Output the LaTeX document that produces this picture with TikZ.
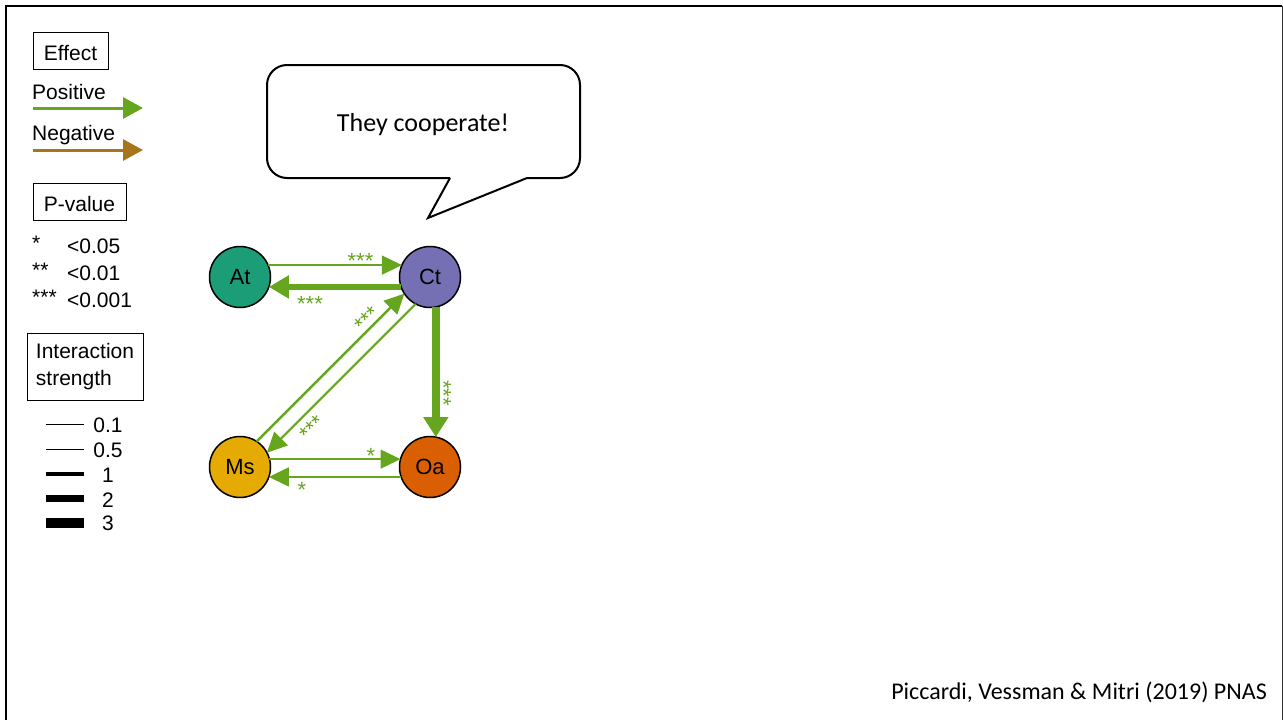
\documentclass[tikz,border=0pt]{standalone}
\usepackage{fontspec}
\setmainfont{Liberation Sans}
\newfontfamily\carl{Carlito}
\usetikzlibrary{arrows.meta}
\definecolor{posg}{HTML}{66A61E}
\definecolor{negb}{HTML}{A6761D}
\definecolor{cAt}{HTML}{1B9E77}
\definecolor{cCt}{HTML}{7570B3}
\definecolor{cMs}{HTML}{E6AB02}
\definecolor{cOa}{HTML}{D95F02}
\tikzset{
  gnode/.style={circle, draw, line width=1.5pt, minimum size=61pt, inner sep=0pt, outer sep=0pt, font=\fontsize{22}{26}\selectfont},
  earrow/.style={draw=posg, -{Triangle[length=20pt,width=19pt]}},
  lbl/.style={text=posg, inner sep=0pt, font=\fontsize{22}{26}\selectfont},
  legbox/.style={draw, line width=1pt, inner sep=0pt, font=\fontsize{21}{25}\selectfont},
  legtxt/.style={inner sep=0pt, font=\fontsize{21}{25}\selectfont},
  legarrow/.style={line width=3pt, -{Triangle[length=20pt,width=21pt]}},
}
\begin{document}
\begin{tikzpicture}[x=1pt,y=-1pt]
\useasboundingbox (0,0) rectangle (1283,720);
% frame
\draw[line width=2.5pt] (6,720) -- (6,6) -- (1282,6);
\draw[line width=1pt, black!80] (1282,6) -- (1282,720);

% legend: effect
\node[legbox, minimum width=75pt, minimum height=37pt, text height=20pt, text depth=0pt] (eff) at (70.5,50.5) {Effect};
\node[legtxt, anchor=base west] (pos) at (32,99) {Positive};
\coordinate (p1) at (33,108); \coordinate (p2) at (143,108);
\draw[legarrow, posg] (p1) -- (p2);
\node[legtxt, anchor=base west] (neg) at (32,140) {Negative};
\coordinate (n1) at (33,150); \coordinate (n2) at (143,150);
\draw[legarrow, negb] (n1) -- (n2);

% legend: p-value
\node[legbox, minimum width=93pt, minimum height=37pt, text height=20pt, text depth=0pt] (pv) at (79.5,201.5) {P-value};
\node[legtxt, anchor=base west] (s1) at (32,250) {*};
\node[legtxt, anchor=base west] (s2) at (32,277) {**};
\node[legtxt, anchor=base west] (s3) at (32,304) {***};
\node[legtxt, anchor=base west] (v1) at (67,253) {<0.05};
\node[legtxt, anchor=base west] (v2) at (67,280) {<0.01};
\node[legtxt, anchor=base west] (v3) at (67,307) {<0.001};

% legend: interaction strength
\node[legbox, minimum width=116pt, minimum height=67pt, align=left, font=\fontsize{21}{27}\selectfont] (is) at (85,366.5) {Interaction\\strength};
\coordinate (a1) at (46,424); \coordinate (b1) at (84,424);
\coordinate (a2) at (46,449); \coordinate (b2) at (84,449);
\coordinate (a3) at (46,474); \coordinate (b3) at (84,474);
\coordinate (a4) at (46,498); \coordinate (b4) at (84,498);
\coordinate (a5) at (46,523); \coordinate (b5) at (84,523);
\draw[line width=0.5pt] (a1) -- (b1);
\draw[line width=1pt] (a2) -- (b2);
\draw[line width=4pt] (a3) -- (b3);
\draw[line width=7pt] (a4) -- (b4);
\draw[line width=10pt] (a5) -- (b5);
\node[legtxt] (w1) at (108,425) {0.1};
\node[legtxt] (w2) at (108,450) {0.5};
\node[legtxt] (w3) at (108,475) {1};
\node[legtxt] (w4) at (108,500) {2};
\node[legtxt] (w5) at (108,523.5) {3};

% graph nodes
\node[gnode, fill=cAt] (At) at (240,277) {At};
\node[gnode, fill=cCt] (Ct) at (430,277) {Ct};
\node[gnode, fill=cMs] (Ms) at (240,467) {Ms};
\node[gnode, fill=cOa] (Oa) at (430,467) {Oa};

% graph edges
\draw[earrow, line width=1.5pt] (At.23) -- (Ct.157);
\draw[earrow, line width=6pt, -{Triangle[length=20pt,width=22pt]}] (Ct.-161) -- (At.-19);
\draw[earrow, line width=2.5pt] (Ms.57) -- (Ct.213);
\draw[earrow, line width=2pt] (Ct.242) -- (Ms.28);
\draw[earrow, line width=8pt, -{Triangle[length=20pt,width=24pt]}] (Ct.-79) -- (Oa.79);
\draw[earrow, line width=1.3pt] (Ms.15) -- (Oa.165);
\draw[earrow, line width=1.5pt] (Oa.-161) -- (Ms.-19);

% edge labels
\node[lbl] (l1) at (360.5,261) {***};
\node[lbl] (l2) at (310,304) {***};
\node[lbl, rotate=45] (l3) at (367.5,319.5) {***};
\node[lbl, rotate=45] (l4) at (312.5,428.5) {***};
\node[lbl, rotate=-90] (l5) at (443.5,393) {***};
\node[lbl] (l6) at (371,456) {*};
\node[lbl] (l7) at (302,489.5) {*};

% speech bubble
\coordinate (t1) at (450,178);
\coordinate (t2) at (428,218);
\coordinate (t3) at (527,178);
\draw[line width=2pt, rounded corners=20pt] (t1) -- (267,178) -- (267,65) -- (580,65) -- (580,178) -- (t3);
\draw[line width=2pt, line join=miter] (t1) -- (t2) -- (t3);
\node[inner sep=0pt, anchor=base, font=\carl\fontsize{26}{31}\selectfont] (say) at (423,131) {They cooperate!};

% citation
\node[inner sep=0pt, anchor=base east, font=\carl\fontsize{24}{29}\selectfont] (cite) at (1267,699) {Piccardi, Vessman \& Mitri (2019) PNAS};
\end{tikzpicture}
\end{document}
